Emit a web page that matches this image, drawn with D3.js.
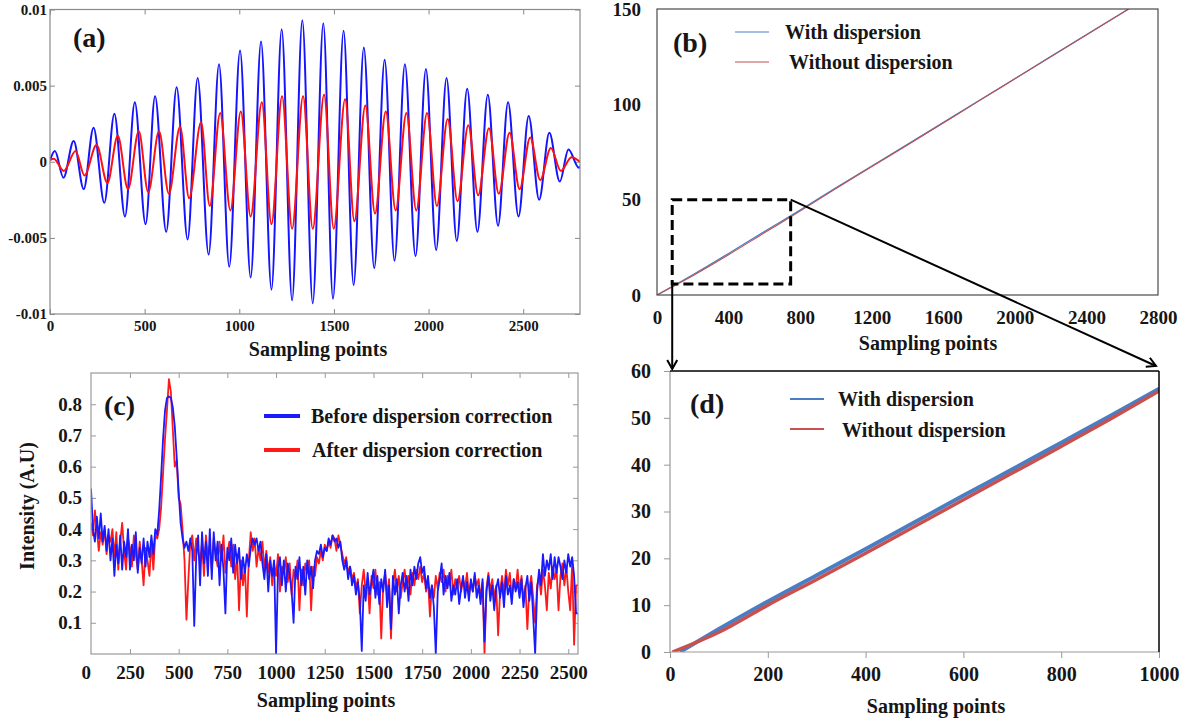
<!DOCTYPE html>
<html><head><meta charset="utf-8">
<script src="https://cdn.jsdelivr.net/npm/d3@7"></script>
<style>
body{margin:0;background:#fff;}
svg text{font-family:"Liberation Serif","Times New Roman",serif;font-weight:bold;fill:#161616;}
</style></head><body>
<svg id="chart" width="1189" height="723"></svg>
<script>
// ---------------- DATA ----------------
// (a) interferogram extrema (sampling point, amplitude)
const aBlueX = [0,26,71,125,178,230,287,340,396,448,505,555,614,669,727,780,838,893,947,1004,1060,1115,1170,1224,1279,1333,1388,1444,1495,1551,1604,1658,1713,1768,1820,1875,1931,1986,2040,2095,2149,2204,2258,2313,2367,2420,2475,2529,2584,2638,2693,2739,2794,2800];
const aBlueY = [0.0001,0.0007,-0.00105,0.00136,-0.0018,0.00224,-0.0027,0.00316,-0.0036,0.0039,-0.0041,0.0043,-0.0046,0.0049,-0.0051,0.0055,-0.0061,0.0064,-0.0069,0.0073,-0.0076,0.0079,-0.0084,0.0087,-0.0091,0.0093,-0.0093,0.0091,-0.0090,0.0086,-0.0081,0.0075,-0.0070,0.0067,-0.0065,0.0064,-0.0062,0.0061,-0.0058,0.0055,-0.0052,0.0048,-0.0046,0.0044,-0.0042,0.0039,-0.0036,0.0030,-0.0025,0.0019,-0.0013,0.0008,-0.0004,-0.0003];
const aRedX = [0,20,73,135,182,246,303,358,412,469,519,576,628,687,735,798,844,899,953,1008,1060,1119,1170,1226,1279,1337,1388,1448,1499,1559,1608,1666,1717,1774,1826,1883,1935,1992,2044,2101,2153,2210,2262,2319,2371,2428,2481,2537,2590,2646,2699,2755,2800];
const aRedY = [0.0001,0.0002,-0.0006,0.0007,-0.0009,0.0011,-0.0014,0.0017,-0.0018,0.0020,-0.0020,0.0020,-0.0021,0.0023,-0.0024,0.0026,-0.0029,0.0032,-0.0032,0.0033,-0.0036,0.0039,-0.0041,0.0043,-0.0044,0.0043,-0.0044,0.0044,-0.0044,0.0041,-0.0039,0.0037,-0.0034,0.0033,-0.0032,0.0032,-0.0032,0.0032,-0.0029,0.0028,-0.0026,0.0024,-0.0022,0.0022,-0.0021,0.0019,-0.0018,0.0016,-0.0012,0.0009,-0.0006,0.0003,0.0000];
const aXTicks = [0,500,1000,1500,2000,2500];
const aYTicks = [-0.01,-0.005,0,0.005,0.01];

// (b) phase vs sampling points
const bX = [0,200,400,600,800,1000,1400,1800,2200,2800];
const bWith = [0,10.6,21.8,33.3,44.5,56.2,79.0,102.0,125.0,159.5];
const bWithout = [0,10.1,21.1,32.6,44.0,55.8,78.7,101.8,124.9,159.4];
const bXTicks = [0,400,800,1200,1600,2000,2400,2800];
const bYTicks = [0,50,100,150];
const zoomBoxX = [85,747];
const zoomBoxY = [5.8,50];

// (c) A-scan intensity, sampled every 10 points from 50
const cSampleStart = 50, cSampleStep = 10;
const cBefore = [
0.53,0.40,0.36,0.44,0.37,0.45,0.36,0.41,0.33,0.40,
0.30,0.37,0.25,0.35,0.29,0.38,0.27,0.36,0.31,0.40,
0.27,0.35,0.30,0.39,0.26,0.34,0.29,0.37,0.28,0.36,
0.31,0.38,0.32,0.40,0.38,0.46,0.57,0.69,0.78,0.82,
0.825,0.82,0.79,0.73,0.63,0.52,0.42,0.37,0.34,0.36,
0.33,0.37,0.33,0.09,0.31,0.38,0.22,0.39,0.29,0.36,
0.25,0.40,0.24,0.39,0.30,0.36,0.22,0.35,0.27,0.13,
0.34,0.30,0.37,0.26,0.35,0.29,0.34,0.24,0.31,0.26,
0.32,0.28,0.34,0.37,0.35,0.37,0.33,0.36,0.29,0.24,
0.32,0.20,0.30,0.25,0.30,0.00,0.27,0.31,0.22,0.30,
0.20,0.29,0.25,0.20,0.10,0.28,0.24,0.31,0.22,0.28,
0.19,0.30,0.24,0.28,0.21,0.30,0.33,0.32,0.35,0.31,
0.34,0.33,0.37,0.35,0.38,0.36,0.37,0.34,0.36,0.30,
0.27,0.30,0.24,0.28,0.22,0.25,0.19,0.23,0.17,0.01,
0.22,0.17,0.26,0.19,0.23,0.27,0.18,0.25,0.16,0.24,
0.20,0.27,0.15,0.22,0.08,0.25,0.19,0.24,0.13,0.22,
0.26,0.20,0.25,0.17,0.27,0.22,0.28,0.24,0.29,0.31,
0.26,0.28,0.21,0.25,0.18,0.22,0.15,0.00,0.20,0.24,
0.29,0.19,0.25,0.21,0.26,0.17,0.22,0.19,0.24,0.16,
0.21,0.25,0.18,0.23,0.17,0.24,0.20,0.26,0.18,0.22,
0.16,0.24,0.04,0.20,0.25,0.17,0.22,0.14,0.21,0.24,
0.18,0.23,0.15,0.25,0.19,0.22,0.16,0.24,0.20,0.23,
0.18,0.24,0.15,0.21,0.25,0.17,0.23,0.12,0.00,0.20,
0.27,0.22,0.32,0.25,0.30,0.27,0.32,0.24,0.31,0.26,
0.31,0.28,0.24,0.30,0.26,0.32,0.28,0.31,0.25,0.13,
0.13];
const cAfter = [
0.42,0.38,0.46,0.40,0.33,0.39,0.35,0.40,0.32,0.38,
0.36,0.40,0.31,0.39,0.27,0.36,0.42,0.33,0.27,0.37,
0.34,0.28,0.38,0.32,0.27,0.36,0.30,0.22,0.34,0.30,
0.25,0.36,0.27,0.38,0.37,0.40,0.47,0.58,0.69,0.78,
0.88,0.84,0.72,0.60,0.62,0.50,0.48,0.40,0.30,0.11,
0.24,0.36,0.38,0.30,0.37,0.33,0.29,0.36,0.25,0.38,
0.31,0.35,0.27,0.37,0.32,0.28,0.36,0.30,0.38,0.26,
0.32,0.36,0.28,0.35,0.24,0.32,0.14,0.30,0.22,0.28,
0.12,0.30,0.39,0.33,0.37,0.28,0.34,0.30,0.36,0.27,
0.33,0.26,0.31,0.22,0.29,0.25,0.32,0.20,0.28,0.26,
0.31,0.23,0.29,0.19,0.27,0.24,0.30,0.14,0.27,0.22,
0.29,0.26,0.30,0.14,0.28,0.25,0.31,0.29,0.33,0.30,
0.35,0.33,0.36,0.34,0.38,0.37,0.33,0.38,0.35,0.32,
0.29,0.31,0.26,0.28,0.24,0.26,0.21,0.24,0.13,0.22,
0.27,0.20,0.24,0.13,0.25,0.21,0.27,0.19,0.23,0.05,
0.22,0.26,0.19,0.24,0.05,0.22,0.27,0.20,0.25,0.18,
0.23,0.27,0.21,0.25,0.19,0.26,0.22,0.27,0.24,0.28,
0.23,0.26,0.20,0.24,0.12,0.22,0.18,0.25,0.21,0.26,
0.23,0.27,0.20,0.25,0.22,0.27,0.19,0.24,0.21,0.25,
0.20,0.24,0.21,0.26,0.19,0.23,0.20,0.25,0.22,0.24,
0.18,0.23,0.00,0.21,0.26,0.20,0.24,0.18,0.22,0.06,
0.20,0.25,0.19,0.27,0.22,0.26,0.18,0.24,0.21,0.27,
0.20,0.25,0.17,0.22,0.08,0.21,0.25,0.18,0.10,0.22,
0.25,0.19,0.27,0.22,0.14,0.26,0.21,0.28,0.24,0.27,
0.14,0.25,0.29,0.22,0.28,0.20,0.14,0.29,0.03,0.22,
0.22];
const cXTicks = [250,500,750,1000,1250,1500,1750,2000,2250,2500];
const cYTicks = [0.1,0.2,0.3,0.4,0.5,0.6,0.7,0.8];

// (d) zoomed phase
const dWithX = [20,100,200,300,400,500,600,700,800,900,1000];
const dWith = [0,4.9,10.8,16.4,22.0,27.7,33.4,39.0,44.7,50.4,56.2];
const dWithoutX = [5,100,200,300,400,500,600,700,800,900,1000];
const dWithout = [0,4.2,10.0,15.5,21.1,26.8,32.5,38.2,43.9,49.7,55.7];
const dXTicks = [0,200,400,600,800,1000];
const dYTicks = [0,10,20,30,40,50,60];

// ---------------- DRAW ----------------
const svg = d3.select("#chart");
const defs = svg.append("defs");
defs.append("marker").attr("id","arrowhead").attr("viewBox","-1 -6 12 12")
  .attr("refX",9).attr("refY",0).attr("markerWidth",12).attr("markerHeight",12)
  .attr("markerUnits","userSpaceOnUse").attr("orient","auto")
  .append("path").attr("d","M0,-5 L9,0 L0,5").attr("fill","none").attr("stroke","#000").attr("stroke-width",2);

function clip(id, P){
  defs.append("clipPath").attr("id",id).append("rect")
    .attr("x",P.l).attr("y",P.t).attr("width",P.r-P.l).attr("height",P.b-P.t);
}
function drawLine(g, xs, ys, xsc, ysc, color, w, curve, clipId){
  const pts = xs.map((x,i)=>[x, ys[i]]);
  g.append("path").attr("clip-path",`url(#${clipId})`)
    .attr("d", d3.line().x(d=>xsc(d[0])).y(d=>ysc(d[1])).curve(curve)(pts))
    .attr("fill","none").attr("stroke",color).attr("stroke-width",w)
    .attr("stroke-linejoin","round");
}
function styleAxis(sel, tickColor, fs){
  sel.attr("font-family",null);
  sel.select(".domain").remove();
  sel.selectAll(".tick line").attr("stroke",tickColor);
  sel.selectAll("text").style("font-size",fs+"px").attr("fill","#161616");
}

// ===== Panel (a) =====
const A = {l:50, r:580, t:9.5, b:314};
clip("clipA", A);
const ax = d3.scaleLinear().domain([0,2800]).range([A.l,A.r]);
const ay = d3.scaleLinear().domain([-0.01,0.01]).range([A.b,A.t]);
const gA = svg.append("g");
styleAxis(gA.append("g").attr("transform",`translate(0,${A.b})`)
  .call(d3.axisBottom(ax).tickValues(aXTicks).tickSizeInner(-5).tickSizeOuter(0).tickPadding(6).tickFormat(d3.format("d"))), "#888", 15);
styleAxis(gA.append("g").attr("transform",`translate(0,${A.t})`)
  .call(d3.axisTop(ax).tickValues(aXTicks).tickSizeInner(-5).tickSizeOuter(0).tickFormat("")), "#888", 15);
styleAxis(gA.append("g").attr("transform",`translate(${A.l},0)`)
  .call(d3.axisLeft(ay).tickValues(aYTicks).tickSizeInner(-5).tickSizeOuter(0).tickPadding(3).tickFormat(d=>d===0?"0":String(d))), "#888", 15);
styleAxis(gA.append("g").attr("transform",`translate(${A.r},0)`)
  .call(d3.axisRight(ay).tickValues(aYTicks).tickSizeInner(-5).tickSizeOuter(0).tickFormat("")), "#888", 15);
drawLine(gA, aBlueX, aBlueY, ax, ay, "#1414ff", 2, d3.curveMonotoneX, "clipA");
drawLine(gA, aRedX, aRedY, ax, ay, "#ff1010", 2, d3.curveMonotoneX, "clipA");
gA.append("rect").attr("x",A.l).attr("y",A.t).attr("width",A.r-A.l).attr("height",A.b-A.t)
  .attr("fill","none").attr("stroke","#8a8a8a").attr("stroke-width",1.2);
gA.append("text").attr("x",73).attr("y",47).style("font-size","28px").text("(a)");
gA.append("text").attr("x",(A.l+A.r)/2+3).attr("y",356).attr("text-anchor","middle").style("font-size","20px").text("Sampling points");

// ===== Panel (b) =====
const B = {l:657, r:1158, t:9, b:295};
clip("clipB", B);
const bx = d3.scaleLinear().domain([0,2800]).range([B.l,B.r]);
const by = d3.scaleLinear().domain([0,150]).range([B.b,B.t]);
const gB = svg.append("g");
styleAxis(gB.append("g").attr("transform",`translate(0,${B.b})`)
  .call(d3.axisBottom(bx).tickValues(bXTicks).tickSize(0).tickPadding(16).tickFormat(d3.format("d"))), "#555", 19);
styleAxis(gB.append("g").attr("transform",`translate(${B.l},0)`)
  .call(d3.axisLeft(by).tickValues(bYTicks).tickSize(0).tickPadding(16).tickFormat(d3.format("d"))), "#555", 19);
drawLine(gB, bX, bWith, bx, by, "#4a7ec4", 1.3, d3.curveMonotoneX, "clipB");
drawLine(gB, bX, bWithout, bx, by, "#c0504d", 1.1, d3.curveMonotoneX, "clipB");
gB.append("rect").attr("x",B.l).attr("y",B.t).attr("width",B.r-B.l).attr("height",B.b-B.t)
  .attr("fill","none").attr("stroke","#4a4a4a").attr("stroke-width",1.2);
gB.append("text").attr("x",673).attr("y",52).style("font-size","28px").text("(b)");
gB.append("line").attr("x1",735).attr("x2",769).attr("y1",32).attr("y2",32).attr("stroke","#4a7ec4").attr("stroke-width",1.2);
gB.append("line").attr("x1",735).attr("x2",769).attr("y1",62).attr("y2",62).attr("stroke","#c0504d").attr("stroke-width",1.2);
gB.append("text").attr("x",785).attr("y",39).style("font-size","20px").text("With dispersion");
gB.append("text").attr("x",789).attr("y",69).style("font-size","20px").text("Without dispersion");
gB.append("text").attr("x",928).attr("y",350).attr("text-anchor","middle").style("font-size","20px").text("Sampling points");
// dashed zoom box
gB.append("rect").attr("x",bx(zoomBoxX[0])).attr("y",by(zoomBoxY[1]))
  .attr("width",bx(zoomBoxX[1])-bx(zoomBoxX[0])).attr("height",by(zoomBoxY[0])-by(zoomBoxY[1]))
  .attr("fill","none").attr("stroke","#000").attr("stroke-width",3).attr("stroke-dasharray","10,5");

// ===== Panel (c) =====
const C = {l:91, r:578, t:373, b:654};
clip("clipC", C);
const cx = d3.scaleLinear().domain([50,2550]).range([C.l,C.r]);
const cy = d3.scaleLinear().domain([0,0.9]).range([C.b,C.t]);
const cXs = cBefore.map((_,i)=>cSampleStart+i*cSampleStep);
const gC = svg.append("g");
styleAxis(gC.append("g").attr("transform",`translate(0,${C.b})`)
  .call(d3.axisBottom(cx).tickValues(cXTicks).tickSizeInner(-5).tickSizeOuter(0).tickPadding(12).tickFormat(d3.format("d"))), "#999", 19);
styleAxis(gC.append("g").attr("transform",`translate(0,${C.t})`)
  .call(d3.axisTop(cx).tickValues(cXTicks).tickSizeInner(-5).tickSizeOuter(0).tickFormat("")), "#999", 19);
styleAxis(gC.append("g").attr("transform",`translate(${C.l},0)`)
  .call(d3.axisLeft(cy).tickValues(cYTicks).tickSizeInner(-5).tickSizeOuter(0).tickPadding(9).tickFormat(d3.format(".1f"))), "#999", 19);
styleAxis(gC.append("g").attr("transform",`translate(${C.r},0)`)
  .call(d3.axisRight(cy).tickValues(cYTicks).tickSizeInner(-5).tickSizeOuter(0).tickFormat("")), "#999", 19);
gC.append("text").attr("x",cx(25)).attr("y",C.b+25).attr("text-anchor","middle").style("font-size","19px").text("0");
drawLine(gC, cXs, cAfter, cx, cy, "#ff1a1a", 1.8, d3.curveLinear, "clipC");
drawLine(gC, cXs, cBefore, cx, cy, "#1a1aff", 1.8, d3.curveLinear, "clipC");
gC.append("rect").attr("x",C.l).attr("y",C.t).attr("width",C.r-C.l).attr("height",C.b-C.t)
  .attr("fill","none").attr("stroke","#9a9a9a").attr("stroke-width",1.2);
gC.append("text").attr("x",104).attr("y",415).style("font-size","28px").text("(c)");
gC.append("line").attr("x1",264).attr("x2",300).attr("y1",416).attr("y2",416).attr("stroke","#1a1aff").attr("stroke-width",4);
gC.append("line").attr("x1",264).attr("x2",300).attr("y1",450).attr("y2",450).attr("stroke","#ff1a1a").attr("stroke-width",4);
gC.append("text").attr("x",311).attr("y",423).style("font-size","20px").text("Before dispersion correction");
gC.append("text").attr("x",312).attr("y",457).style("font-size","20px").text("After dispersion correction");
gC.append("text").attr("transform","translate(34,506) rotate(-90)").attr("text-anchor","middle").style("font-size","20px").text("Intensity (A.U)");
gC.append("text").attr("x",326).attr("y",707).attr("text-anchor","middle").style("font-size","20px").text("Sampling points");

// ===== Panel (d) =====
const D = {l:670, r:1159, t:371, b:652};
clip("clipD", D);
const dx = d3.scaleLinear().domain([0,1000]).range([D.l,D.r]);
const dy = d3.scaleLinear().domain([0,60]).range([D.b,D.t]);
const gD = svg.append("g");
styleAxis(gD.append("g").attr("transform",`translate(0,${D.b})`)
  .call(d3.axisBottom(dx).tickValues(dXTicks).tickSizeInner(6).tickSizeOuter(0).tickPadding(9).tickFormat(d3.format("d"))), "#999", 20);
styleAxis(gD.append("g").attr("transform",`translate(${D.l},0)`)
  .call(d3.axisLeft(dy).tickValues(dYTicks).tickSizeInner(6).tickSizeOuter(0).tickPadding(13).tickFormat(d3.format("d"))), "#999", 20);
drawLine(gD, dWithX, dWith, dx, dy, "#4a7ec4", 4, d3.curveMonotoneX, "clipD");
drawLine(gD, dWithoutX, dWithout, dx, dy, "#c9504d", 3.4, d3.curveMonotoneX, "clipD");
gD.append("line").attr("x1",D.l).attr("x2",D.l).attr("y1",D.t).attr("y2",D.b).attr("stroke","#999").attr("stroke-width",1.2);
gD.append("line").attr("x1",D.l).attr("x2",D.r).attr("y1",D.b).attr("y2",D.b).attr("stroke","#999").attr("stroke-width",1.2);
gD.append("line").attr("x1",D.l).attr("x2",D.r).attr("y1",D.t).attr("y2",D.t).attr("stroke","#000").attr("stroke-width",1.5);
gD.append("line").attr("x1",D.r).attr("x2",D.r).attr("y1",D.t).attr("y2",D.b).attr("stroke","#000").attr("stroke-width",1.5);
gD.append("text").attr("x",690).attr("y",413).style("font-size","28px").text("(d)");
gD.append("line").attr("x1",790).attr("x2",824).attr("y1",399).attr("y2",399).attr("stroke","#4a7ec4").attr("stroke-width",2);
gD.append("line").attr("x1",790).attr("x2",824).attr("y1",429).attr("y2",429).attr("stroke","#c9504d").attr("stroke-width",2);
gD.append("text").attr("x",838).attr("y",406).style("font-size","20px").text("With dispersion");
gD.append("text").attr("x",842).attr("y",437).style("font-size","20px").text("Without dispersion");
gD.append("text").attr("x",936).attr("y",713).attr("text-anchor","middle").style("font-size","20px").text("Sampling points");

// ===== Zoom arrows =====
svg.append("line").attr("x1",bx(zoomBoxX[0])).attr("y1",by(zoomBoxY[0]))
  .attr("x2",bx(zoomBoxX[0])).attr("y2",D.t-2).attr("stroke","#000").attr("stroke-width",2).attr("marker-end","url(#arrowhead)");
svg.append("line").attr("x1",bx(zoomBoxX[1])).attr("y1",by(zoomBoxY[1]))
  .attr("x2",D.r-3).attr("y2",D.t-5).attr("stroke","#000").attr("stroke-width",2).attr("marker-end","url(#arrowhead)");
</script></body></html>
